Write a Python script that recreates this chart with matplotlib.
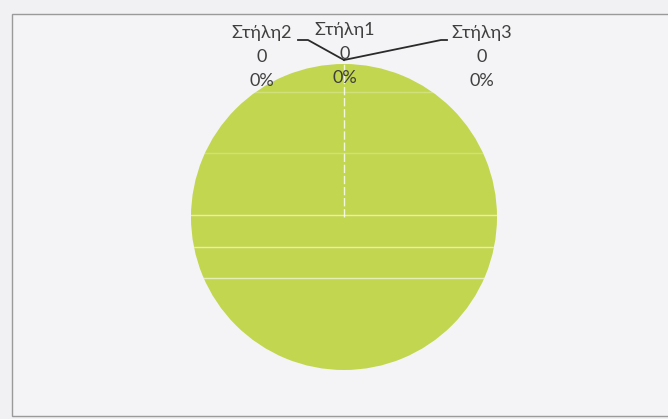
import matplotlib.pyplot as plt
from matplotlib.patches import Rectangle

# data (the filled slice carries no label)
categories = ['Στήλη1', 'Στήλη2', 'Στήλη3', '']
values = [0, 0, 0, 1]
pie_color = '#c3d64f'
text_color = '#3f3f3f'

W, H = 668, 419
fig = plt.figure(figsize=(W / 100, H / 100), dpi=100)
fig.patch.set_facecolor('#f1f1f3')

ax = fig.add_axes([0, 0, 1, 1])
ax.set_facecolor('none')

# chart area border (pixel units, y from the bottom)
ax.add_patch(Rectangle((12, H - 416), W, 416 - 14, facecolor='#f4f4f6',
                       edgecolor='#9a9a9a', linewidth=1.0, zorder=0))

cx, cy, r = 344, H - 217, 153
wedges, _ = ax.pie(values, colors=[pie_color] * len(values), startangle=90,
                   counterclock=False, center=(cx, cy), radius=r, frame=True,
                   wedgeprops=dict(edgecolor='none', zorder=2))
ax.set_xlim(0, W)
ax.set_ylim(0, H)
ax.set_aspect('equal')
ax.axis('off')

# slice border of the empty slices, at the top of the pie
ax.plot([cx, cx], [cy, cy + r], color='white', linewidth=1.0, alpha=0.8,
        linestyle=(0, (6, 2)), zorder=3)
# faint light streaks across the pie, as in the scanned chart
for yy in [215, 247, 278, 92, 153]:
    ln, = ax.plot([cx - r, cx + r], [H - yy, H - yy], color='white',
                  linewidth=1.0, alpha=0.6 if yy > 200 else 0.25, zorder=3)
    ln.set_clip_path(wedges[-1])

total = sum(values)
top = (cx, cy + r)
# label anchor points (pixel coords from the top), leader line elbows
label_pos = {'Στήλη1': (345, 30), 'Στήλη2': (262, 33), 'Στήλη3': (482, 33)}
elbows = {'Στήλη2': [(298, 40), (308, 40)], 'Στήλη3': [(441, 40), (447, 40)]}

for name, v in zip(categories, values):
    if name not in label_pos:
        continue
    x, y = label_pos[name]
    pct = v / total * 100
    for k, s in enumerate([name, f'{v}', f'{pct:.0f}%']):
        ax.text(x, H - y - 24 * k, s, ha='center', va='center', fontsize=13,
                color=text_color, family='Lato', zorder=6)
    if name in elbows:
        pts = elbows[name]
        near = pts[1] if name == 'Στήλη2' else pts[0]
        far = pts[0] if name == 'Στήλη2' else pts[1]
        ax.plot([top[0], near[0], far[0]], [H - 60, H - near[1], H - far[1]],
                color='#2a2a2a', linewidth=1.3, zorder=5)

fig.savefig('out.png', dpi=100, facecolor=fig.get_facecolor())
